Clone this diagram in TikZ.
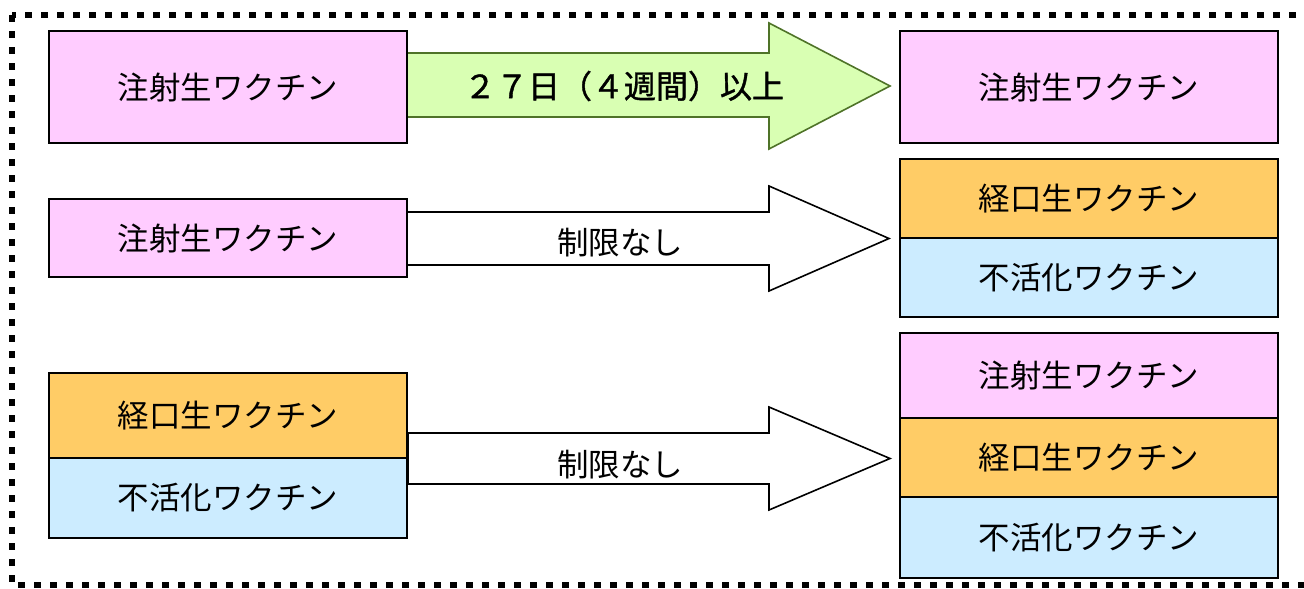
\documentclass[tikz,border=0pt]{standalone}
\usepackage{fontspec}
\setmainfont{Noto Sans CJK JP}
\newfontfamily\heavylbl[FakeBold=1.2]{Noto Sans CJK JP}
\definecolor{pinkbox}{HTML}{FFCCFF}
\definecolor{orangebox}{HTML}{FFCC66}
\definecolor{bluebox}{HTML}{CCECFF}
\definecolor{greenfill}{HTML}{D9FFB3}
\definecolor{greenline}{HTML}{4F7328}
\begin{document}
\begin{tikzpicture}[x=1pt,y=-1pt,
  box/.style={draw=black,line width=2pt,inner sep=0pt,font=\fontsize{31.5}{31.5}\selectfont},
  leftbox/.style={box,minimum width=358pt},
  rightbox/.style={box,minimum width=378pt},
  plainarrow/.style={draw=black,fill=white,line width=1.6pt,line join=miter},
  greenarrow/.style={draw=greenline,fill=greenfill,line width=1.6pt,line join=miter},
  lbl/.style={inner sep=0pt,font=\fontsize{31.5}{31.5}\selectfont}]
\useasboundingbox (0,0) rectangle (1304,589);
% outer dotted frame
\draw[line width=6pt,dash pattern=on 7pt off 9pt] (12,15) rectangle (1340,585);

% arrows (drawn first so the boxes cover their open ends)
\coordinate (tip1) at (890,86);
\coordinate (tip2) at (889,238.5);
\coordinate (tip3) at (890,458.5);
\path[greenarrow] (406,53) -- (769,53) -- (769,23) -- (tip1) -- (769,149) -- (769,117) -- (406,117) -- cycle;
\path[plainarrow] (406,212) -- (769,212) -- (769,186) -- (tip2) -- (769,291) -- (769,265) -- (406,265) -- cycle;
\path[plainarrow] (408,433) -- (769,433) -- (769,407) -- (tip3) -- (769,510) -- (769,484) -- (408,484) -- cycle;

% left column
\node[leftbox,fill=pinkbox,minimum height=112pt] (l1) at (228,87) {注射生ワクチン};
\node[leftbox,fill=pinkbox,minimum height=78pt] (l2) at (228,238) {注射生ワクチン};
\node[leftbox,fill=orangebox,minimum height=85pt] (l3a) at (228,415.5) {経口生ワクチン};
\node[leftbox,fill=bluebox,minimum height=80pt] (l3b) at (228,498) {不活化ワクチン};

% right column
\node[rightbox,fill=pinkbox,minimum height=112pt] (r1) at (1089,87) {注射生ワクチン};
\node[rightbox,fill=orangebox,minimum height=79pt] (r2a) at (1089,198.5) {経口生ワクチン};
\node[rightbox,fill=bluebox,minimum height=79pt] (r2b) at (1089,277.5) {不活化ワクチン};
\node[rightbox,fill=pinkbox,minimum height=85pt] (r3a) at (1089,375.5) {注射生ワクチン};
\node[rightbox,fill=orangebox,minimum height=79pt] (r3b) at (1089,457.5) {経口生ワクチン};
\node[rightbox,fill=bluebox,minimum height=81pt] (r3c) at (1089,537.5) {不活化ワクチン};

% arrow labels
\node[lbl,font=\heavylbl\fontsize{32}{32}\selectfont] (t1) at (624,86) {２７日（４週間）以上};
\node[lbl] (t2) at (620,243) {制限なし};
\node[lbl] (t3) at (620,465) {制限なし};
\end{tikzpicture}
\end{document}
